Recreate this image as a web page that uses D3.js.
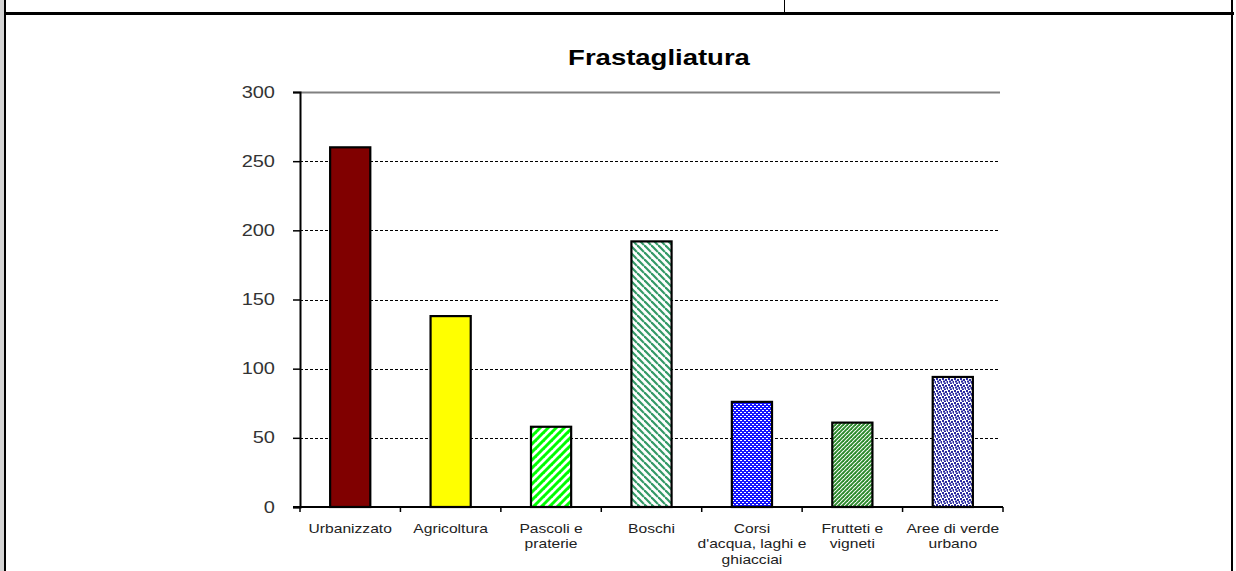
<!DOCTYPE html>
<html>
<head>
<meta charset="utf-8">
<script src="https://cdn.jsdelivr.net/npm/d3@7"></script>
<style>
  html, body { margin: 0; padding: 0; background: #fff; }
  svg { display: block; }
  text { font-family: Arial, "Liberation Sans", sans-serif; }
</style>
</head>
<body>
<svg id="chart" width="1236" height="571"></svg>
<script>
// Land-use categories (multi-line labels split with "\n")
const categories = [
  "Urbanizzato",
  "Agricoltura",
  "Pascoli e\npraterie",
  "Boschi",
  "Corsi\nd'acqua, laghi e\nghiacciai",
  "Frutteti e\nvigneti",
  "Aree di verde\nurbano"
];
// Jaggedness index for each category
const values = [260, 138, 58, 192, 76, 61, 94];
// Y axis tick values
const yTicks = [0, 50, 100, 150, 200, 250, 300];
const title = "Frastagliatura";

const svg = d3.select("#chart");
const W = 1236, H = 571;
const SX = 1.25; // horizontal stretch of the chart's lettering

// ---- Page frame (table cell borders) ----
svg.append("rect").attr("x", 0).attr("y", 0).attr("width", 4).attr("height", H).attr("fill", "#d4d4d4");
svg.append("rect").attr("x", 4).attr("y", 0).attr("width", 2).attr("height", H).attr("fill", "#000");
svg.append("rect").attr("x", 4).attr("y", 12).attr("width", 1230).attr("height", 3).attr("fill", "#000");
svg.append("rect").attr("x", 1231).attr("y", 0).attr("width", 2).attr("height", H).attr("fill", "#000");
svg.append("rect").attr("x", 784).attr("y", 0).attr("width", 1).attr("height", 13).attr("fill", "#000");

// ---- Fill patterns ----
const defs = svg.append("defs");

function stripes(id, color, size, stroke, dir) {
  const p = defs.append("pattern")
    .attr("id", id).attr("patternUnits", "userSpaceOnUse")
    .attr("width", size).attr("height", size);
  p.append("rect").attr("width", size).attr("height", size).attr("fill", "#fff");
  const lines = dir === "/"
    ? [[0, size, size, 0], [-size, size, 0, 0], [size, 2 * size, 2 * size, size], [-1, 1, 1, -1], [size - 1, size + 1, size + 1, size - 1]]
    : [[0, 0, size, size], [-size, 0, 0, size], [0, -size, size, 0]];
  lines.forEach(l => p.append("line")
    .attr("x1", l[0]).attr("y1", l[1]).attr("x2", l[2]).attr("y2", l[3])
    .attr("stroke", color).attr("stroke-width", stroke));
}
stripes("pascoli", "#00ff00", 8, 3, "/");
stripes("boschi", "#339966", 7, 2.2, "\\");
stripes("frutteti", "#2e8b2e", 4, 1.9, "/");

// Blue field with small white dashes
(function () {
  const p = defs.append("pattern").attr("id", "corsi")
    .attr("patternUnits", "userSpaceOnUse").attr("width", 4).attr("height", 4);
  p.append("rect").attr("width", 4).attr("height", 4).attr("fill", "#1414ff");
  p.append("rect").attr("x", 0).attr("y", 0).attr("width", 2).attr("height", 1).attr("fill", "#ffffff");
  p.append("rect").attr("x", 2).attr("y", 2).attr("width", 2).attr("height", 1).attr("fill", "#ffffff");
})();

// White field with navy dots
(function () {
  const p = defs.append("pattern").attr("id", "aree")
    .attr("patternUnits", "userSpaceOnUse").attr("width", 6).attr("height", 6);
  p.append("rect").attr("width", 6).attr("height", 6).attr("fill", "#fff");
  [[0, 0], [3, 1], [1, 2.5], [4.5, 3], [2, 4.5], [5, 5.2]].forEach(d =>
    p.append("rect").attr("x", d[0]).attr("y", d[1]).attr("width", 2).attr("height", 2).attr("fill", "#2a2a9f"));
})();

const fills = ["#800000", "#ffff00", "url(#pascoli)", "url(#boschi)", "url(#corsi)", "url(#frutteti)", "url(#aree)"];

// ---- Plot area ----
const plot = { left: 300, right: 1003, top: 92, bottom: 507 };

const x = d3.scaleBand()
  .domain(categories)
  .range([plot.left, plot.right])
  .paddingInner(0.6)
  .paddingOuter(0.3);

const y = d3.scaleLinear().domain([0, 300]).range([plot.bottom, plot.top]);

// Title
svg.append("text")
  .attr("transform", `translate(659,65) scale(${SX},1)`)
  .attr("text-anchor", "middle")
  .attr("font-size", 22).attr("font-weight", "bold")
  .attr("fill", "#000")
  .text(title);

// Gridlines
svg.append("g").selectAll("line")
  .data(yTicks.filter(t => t > 0))
  .join("line")
  .attr("x1", plot.left).attr("x2", plot.right - 3)
  .attr("y1", d => Math.round(y(d)) + 0.5).attr("y2", d => Math.round(y(d)) + 0.5)
  .attr("stroke", d => d === 300 ? "#808080" : "#000")
  .attr("stroke-width", d => d === 300 ? 2 : 1)
  .attr("stroke-dasharray", d => d === 300 ? null : "3,2");

// Bars
svg.append("g").selectAll("rect")
  .data(values)
  .join("rect")
  .attr("x", (d, i) => x(categories[i]))
  .attr("y", d => y(d))
  .attr("width", x.bandwidth())
  .attr("height", d => y(0) - y(d))
  .attr("fill", (d, i) => fills[i])
  .attr("stroke", "#000")
  .attr("stroke-width", 2.2);

// Y axis
const yAxis = svg.append("g")
  .attr("transform", `translate(${plot.left},0)`)
  .call(d3.axisLeft(y).tickValues(yTicks).tickSize(7).tickPadding(0));
yAxis.select(".domain").attr("stroke", "#000").attr("stroke-width", 2);
yAxis.selectAll(".tick line").attr("stroke", "#000").attr("stroke-width", 1.5);
yAxis.selectAll(".tick text")
  .attr("x", null)
  .attr("transform", `translate(-25,0) scale(${SX},1)`)
  .attr("font-size", 16).attr("fill", "#333")
  .attr("font-family", "Arial, 'Liberation Sans', sans-serif");

// X axis line with tick marks on category boundaries
const bounds = d3.range(categories.length + 1).map(i => plot.left + i * (plot.right - plot.left) / categories.length);
svg.append("line")
  .attr("x1", plot.left - 7).attr("x2", plot.right)
  .attr("y1", plot.bottom).attr("y2", plot.bottom)
  .attr("stroke", "#000").attr("stroke-width", 2);
svg.append("g").selectAll("line")
  .data(bounds)
  .join("line")
  .attr("x1", d => d).attr("x2", d => d)
  .attr("y1", plot.bottom).attr("y2", plot.bottom + 5)
  .attr("stroke", "#000").attr("stroke-width", 1.5);

// Category labels
const labels = svg.append("g").selectAll("text")
  .data(categories)
  .join("text")
  .attr("transform", d => `translate(${x(d) + x.bandwidth() / 2},533) scale(${SX},1)`)
  .attr("text-anchor", "middle")
  .attr("font-size", 12.5)
  .attr("fill", "#222");
labels.each(function (d) {
  const t = d3.select(this);
  d.split("\n").forEach((line, k) => {
    t.append("tspan")
      .attr("x", 0)
      .attr("dy", k === 0 ? 0 : 15.5)
      .text(line);
  });
});
</script>
</body>
</html>
